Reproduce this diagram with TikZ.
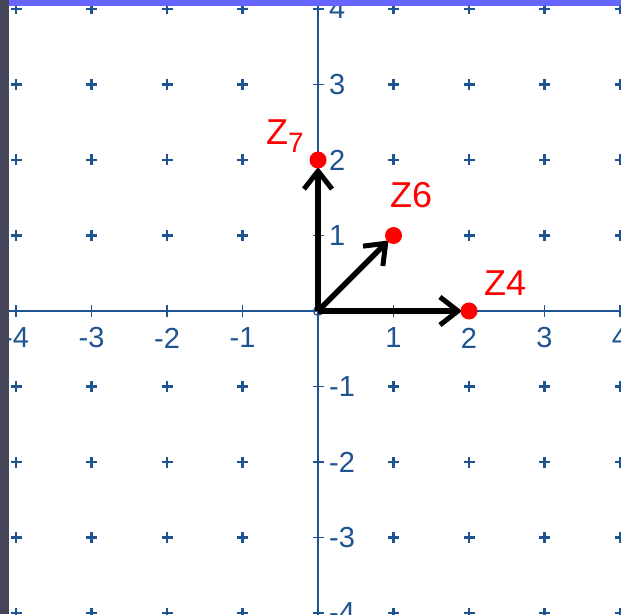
\documentclass[tikz,border=0pt]{standalone}
\usepackage{fontspec}
\setmainfont{Liberation Sans}
\usetikzlibrary{arrows.meta}
\definecolor{axisblue}{RGB}{30,84,145}
\definecolor{ptred}{RGB}{255,0,0}
\definecolor{barpurple}{RGB}{102,102,255}
\definecolor{stripgrey}{RGB}{70,70,90}
\tikzset{
  plusmark/.style={axisblue, line width=2.2pt},
  axisline/.style={axisblue, line width=1.8pt},
  numlbl/.style={text=axisblue, font=\fontsize{29}{29}\selectfont, inner sep=0pt},
  vec/.style={line width=5.5pt, black, -{Straight Barb[length=18pt,width=28pt,line width=5pt]}, shorten >=7pt},
  dot/.style={circle, fill=ptred, minimum size=17pt, inner sep=0pt},
  zlbl/.style={text=ptred, font=\fontsize{36}{36}\selectfont, inner sep=0pt},
  origring/.style={circle, draw=axisblue, line width=1.2pt, minimum size=9pt, inner sep=0pt}
}
\begin{document}
\begin{tikzpicture}[x=1pt,y=1pt]
\useasboundingbox (0,0) rectangle (621,614);
\fill[white] (0,0) rectangle (621,614);
\begin{scope}
\clip (0,0) rectangle (621,614);
\begin{scope}[shift={(318,303)}, x=75.5pt, y=75.5pt]
  % grid plus marks
  \foreach \i in {-4,-3,-2,-1,1,2,3,4}{
    \foreach \j in {-4,-3,-2,-1,1,2,3,4}{
      \draw[plusmark] (\i,\j) ++(-5.5pt,0) -- ++(11pt,0);
      \draw[plusmark] (\i,\j) ++(0,-5.5pt) -- ++(0,11pt);
    }
  }
  % axes
  \draw[axisline] (-4.3,0) -- (4.3,0);
  \draw[axisline] (0,-4.3) -- (0,4.3);
  \foreach \i in {-4,...,4}{
    \draw[axisline, line width=1.8pt] (\i,0) ++(0,-5.5pt) -- ++(0,11pt);
    \draw[axisline, line width=1.8pt] (0,\i) ++(-5.5pt,0) -- ++(11pt,0);
  }
  % axis labels
  \foreach \i/\n in {-4/m4,-3/m3,-2/m2,-1/m1,1/p1,2/p2,3/p3,4/p4}{
    \node[numlbl] (xl\n) at ([yshift=-27pt]\i,0) {\i};
    \node[numlbl, anchor=west] (yl\n) at ([xshift=11pt]0,\i) {\i};
  }
  \node[origring] (o) at (0,0) {};
  % points
  \coordinate (c4) at (2,0);
  \coordinate (c6) at (1,1);
  \coordinate (c7) at (0,2);
  \draw[vec] (o.center) -- (c4);
  \draw[vec] (o.center) -- (c6);
  \draw[vec] (o.center) -- (c7);
  \node[dot] (z4) at (c4) {};
  \node[dot] (z6) at (c6) {};
  \node[dot] (z7) at (c7) {};
\end{scope}
% point labels
\node[zlbl, anchor=base west] (lz4) at (484,319) {Z4};
\node[zlbl, anchor=base west] (lz6) at (390,406) {Z6};
\node[zlbl, anchor=base west] (lz7) at (266,469) {Z\raisebox{-8pt}{\fontsize{28}{28}\selectfont 7}};
% frame decorations
\fill[stripgrey] (0,0) rectangle (9,614);
\fill[barpurple] (9,608) rectangle (621,614);
\end{scope}
\end{tikzpicture}
\end{document}
